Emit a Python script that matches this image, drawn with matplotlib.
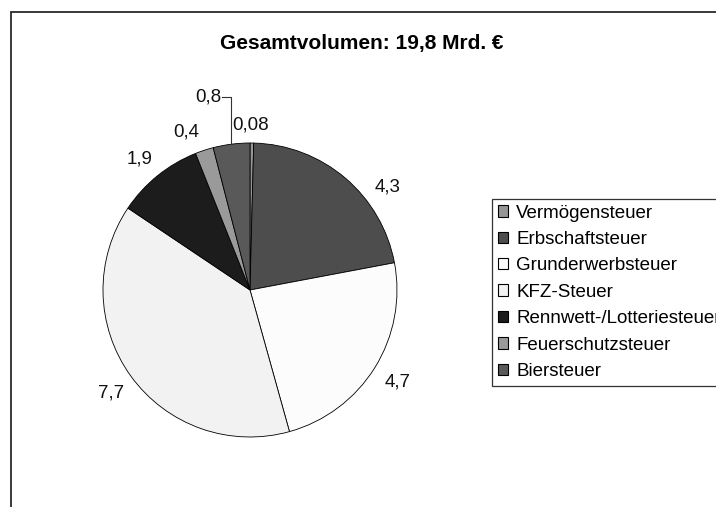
import numpy as np
import matplotlib
matplotlib.use("Agg")
import matplotlib.pyplot as plt
from matplotlib.patches import Rectangle

plt.rcParams['font.family'] = ['Liberation Sans', 'DejaVu Sans']

# data
steuern = ['Vermögensteuer', 'Erbschaftsteuer', 'Grunderwerbsteuer', 'KFZ-Steuer',
           'Rennwett-/Lotteriesteuer', 'Feuerschutzsteuer', 'Biersteuer']
werte = [0.08, 4.3, 4.7, 7.7, 1.9, 0.4, 0.8]
wert_labels = ['0,08', '4,3', '4,7', '7,7', '1,9', '0,4', '0,8']
farben = ['#969696', '#4d4d4d', '#fcfcfc', '#f2f2f2', '#1c1c1c', '#9a9a9a', '#595959']
titel = 'Gesamtvolumen: 19,8 Mrd. €'

# label positions (pixels in the 716x507 picture), excel style "best fit"
label_px = [(251, 125), (388, 187), (398, 382), (111, 393), (140, 159), (186, 132), (208, 97)]

W, H = 716, 507
fig = plt.figure(figsize=(W / 100, H / 100), dpi=100)
fig.patch.set_facecolor('white')

# outer chart frame (cut off at right and bottom)
fig.patches.append(Rectangle((10.5 / W, -0.1), 1.2, 1 - 11.5 / H + 0.1, transform=fig.transFigure,
                             fill=False, edgecolor='#2a2a2a', linewidth=1.3))

cx, cy, r = 250, 290, 147
ax = fig.add_axes([(cx - r) / W, (H - cy - r) / H, 2 * r / W, 2 * r / H])
wedges, _ = ax.pie(werte, colors=farben, startangle=90, counterclock=False, radius=1,
                   wedgeprops=dict(edgecolor='black', linewidth=0.6))
ax.set_xlim(-1, 1)
ax.set_ylim(-1, 1)
ax.set_aspect('equal')
ax.axis('off')

for (px, py), txt in zip(label_px, wert_labels):
    ax.text((px - cx) / r, (cy - py) / r, txt, ha='center', va='center', fontsize=13.5,
            color='#111111', clip_on=False)

# leader line for Biersteuer
w = wedges[-1]
mid = np.deg2rad((w.theta1 + w.theta2) / 2)
x0, y0 = np.cos(mid), np.sin(mid)
ytop = (cy - 97) / r
xend = (222 - cx) / r
ax.plot([x0, x0, xend], [y0, ytop, ytop], color='#333333', lw=0.8, clip_on=False)

fig.text(362 / W, 1 - 43 / H, titel, ha='center', va='center', fontsize=15,
         fontweight='bold')

leg = fig.legend(wedges, steuern, loc='upper left', bbox_to_anchor=(492 / W, 1 - 199 / H),
                 fontsize=13.5, frameon=True, fancybox=False, borderpad=0.3,
                 labelspacing=0.5, handlelength=0.55, handleheight=0.55,
                 handletextpad=0.45, borderaxespad=0)
leg.get_frame().set_edgecolor('black')
leg.get_frame().set_linewidth(0.9)
for h in leg.legend_handles:
    h.set_linewidth(0.8)

fig.savefig('out.png', dpi=100)
